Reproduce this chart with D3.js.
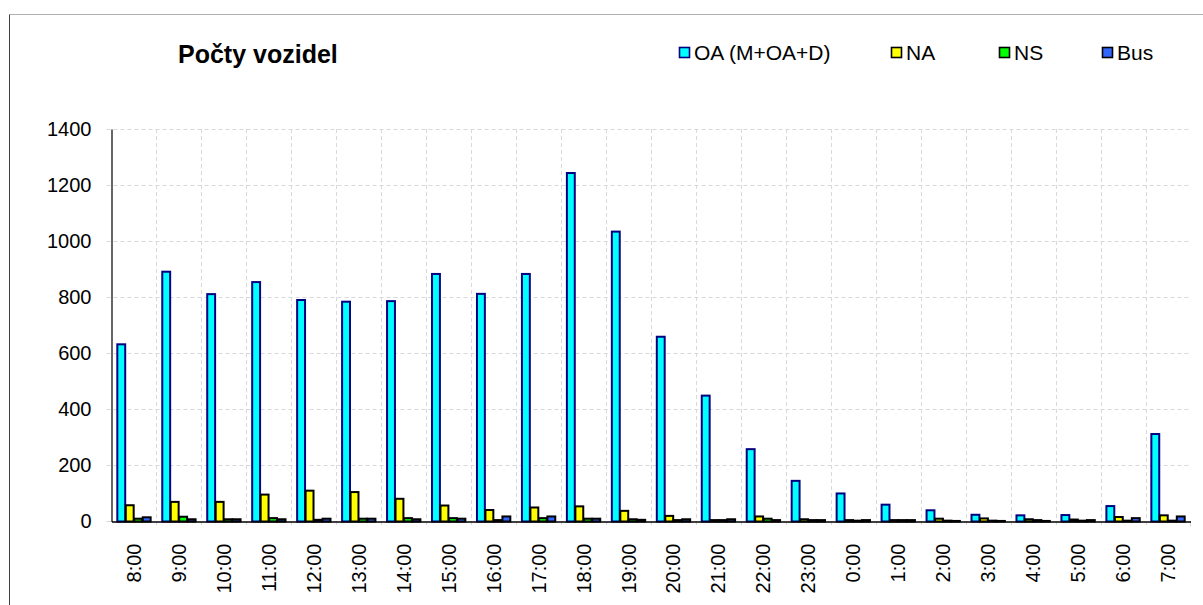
<!DOCTYPE html>
<html><head><meta charset="utf-8">
<script src="https://cdn.jsdelivr.net/npm/d3@7"></script>
<style>html,body{margin:0;padding:0;background:#fff;overflow:hidden}svg{display:block;font-family:"Liberation Sans",Arial,sans-serif}</style>
</head><body>
<script>
const categories = ["8:00","9:00","10:00","11:00","12:00","13:00","14:00","15:00","16:00","17:00","18:00","19:00","20:00","21:00","22:00","23:00","0:00","1:00","2:00","3:00","4:00","5:00","6:00","7:00"];
const seriesNames = ["OA (M+OA+D)","NA","NS","Bus"];
const oa  = [632,891,811,854,790,784,786,883,812,883,1243,1034,659,449,258,145,100,60,40,24,22,23,55,312];
const na  = [58,70,70,96,110,105,81,57,41,50,54,38,20,5,18,8,5,5,10,11,8,7,16,22];
const ns  = [10,17,8,12,6,10,12,12,5,12,10,8,5,5,10,5,3,5,3,3,5,3,3,3];
const bus = [15,8,8,8,10,10,8,10,18,18,10,6,8,8,5,5,5,5,2,2,2,5,12,18];
const yTicks = [0,200,400,600,800,1000,1200,1400];
const fills = ["#00FFFF","#FFFF00","#00FF00","#3366FF"];
const strokes = ["#000080","#000000","#000000","#000000"];
const values = [oa, na, ns, bus];

const W = 1203, H = 605;
const m = {left:111.5, top:129, right:1190.5, bottom:521.5};
const svg = d3.select("body").append("svg").attr("width",W).attr("height",H);

// frame
svg.append("line").attr("x1",9.5).attr("x2",W).attr("y1",14.5).attr("y2",14.5).attr("stroke","#b0b0b0").attr("stroke-width",1);
svg.append("line").attr("x1",9.5).attr("x2",9.5).attr("y1",14.5).attr("y2",H).attr("stroke","#404040").attr("stroke-width",1);

const x = d3.scaleBand().domain(categories).range([m.left, m.right]).paddingInner(0).paddingOuter(0);
const y = d3.scaleLinear().domain([0,1400]).range([m.bottom, m.top]);
const bw = x.bandwidth();
const inner = d3.scaleBand().domain(d3.range(4)).range([0,bw]).paddingInner(0).paddingOuter(0.65);

const gridCol = "#d9d9d9";
// horizontal gridlines
svg.append("g").selectAll("line").data(yTicks.filter(d=>d>0)).join("line")
  .attr("x1",m.left-5).attr("x2",m.right).attr("y1",d=>Math.round(y(d))+0.5).attr("y2",d=>Math.round(y(d))+0.5)
  .attr("stroke",gridCol).attr("stroke-dasharray","4,3");
// vertical gridlines
svg.append("g").selectAll("line").data(categories.slice(1)).join("line")
  .attr("x1",d=>Math.round(x(d))+0.5).attr("x2",d=>Math.round(x(d))+0.5).attr("y1",m.top).attr("y2",m.bottom+5)
  .attr("stroke",gridCol).attr("stroke-dasharray","4,3");
svg.append("line").attr("x1",m.right).attr("x2",m.right).attr("y1",m.bottom).attr("y2",m.bottom+5).attr("stroke",gridCol);
svg.append("line").attr("x1",m.left-5).attr("x2",m.left).attr("y1",m.bottom).attr("y2",m.bottom).attr("stroke",gridCol);

// y axis
const yAxis = d3.axisLeft(y).tickValues(yTicks).tickFormat(d3.format("d")).tickSize(0).tickPadding(20);
const gy = svg.append("g").attr("transform",`translate(${m.left},0)`).call(yAxis);
gy.select(".domain").attr("stroke","#000").attr("stroke-width",1.2);
gy.selectAll("text").attr("font-size",20).attr("fill","#000").attr("font-family","'Liberation Sans',Arial,sans-serif");

// bars
const groups = svg.append("g").selectAll("g").data(categories).join("g")
  .attr("transform",d=>`translate(${x(d)},0)`);
groups.selectAll("rect").data((d,i)=>values.map((v,s)=>({s, v:v[i]}))).join("rect")
  .attr("x",d=>inner(d.s)+0.3)
  .attr("width",inner.bandwidth()-0.6)
  .attr("y",d=>y(d.v))
  .attr("height",d=>Math.max(0.5,y(0)-y(d.v)))
  .attr("fill",d=>fills[d.s]).attr("stroke",d=>strokes[d.s]).attr("stroke-width",2);

// x axis
const xAxis = d3.axisBottom(x).tickSize(0).tickPadding(0);
const gx = svg.append("g").attr("transform",`translate(0,${m.bottom})`).call(xAxis);
gx.select(".domain").attr("stroke","#000").attr("stroke-width",1.5);
gx.selectAll("text").attr("font-size",20).attr("fill","#000").attr("font-family","'Liberation Sans',Arial,sans-serif")
  .attr("transform","rotate(-90)").attr("text-anchor","end").attr("dy","0.35em").attr("x",-22).attr("y",0);

// title
svg.append("text").attr("x",178).attr("y",63).attr("font-size",25).attr("font-weight","bold").attr("fill","#000").text("Počty vozidel");

// legend
const legX = [679, 891, 999, 1102];
const leg = svg.append("g").selectAll("g").data(seriesNames).join("g").attr("transform",(d,i)=>`translate(${legX[i]},47)`);
leg.append("rect").attr("x",0.5).attr("y",0.5).attr("width",10).attr("height",10)
  .attr("fill",(d,i)=>fills[i]).attr("stroke",(d,i)=>i===0?"#000080":"#000").attr("stroke-width",1.6);
leg.append("text").attr("x",15).attr("y",12.5).attr("font-size",21).attr("fill","#000").text(d=>d);
</script>
</body></html>
